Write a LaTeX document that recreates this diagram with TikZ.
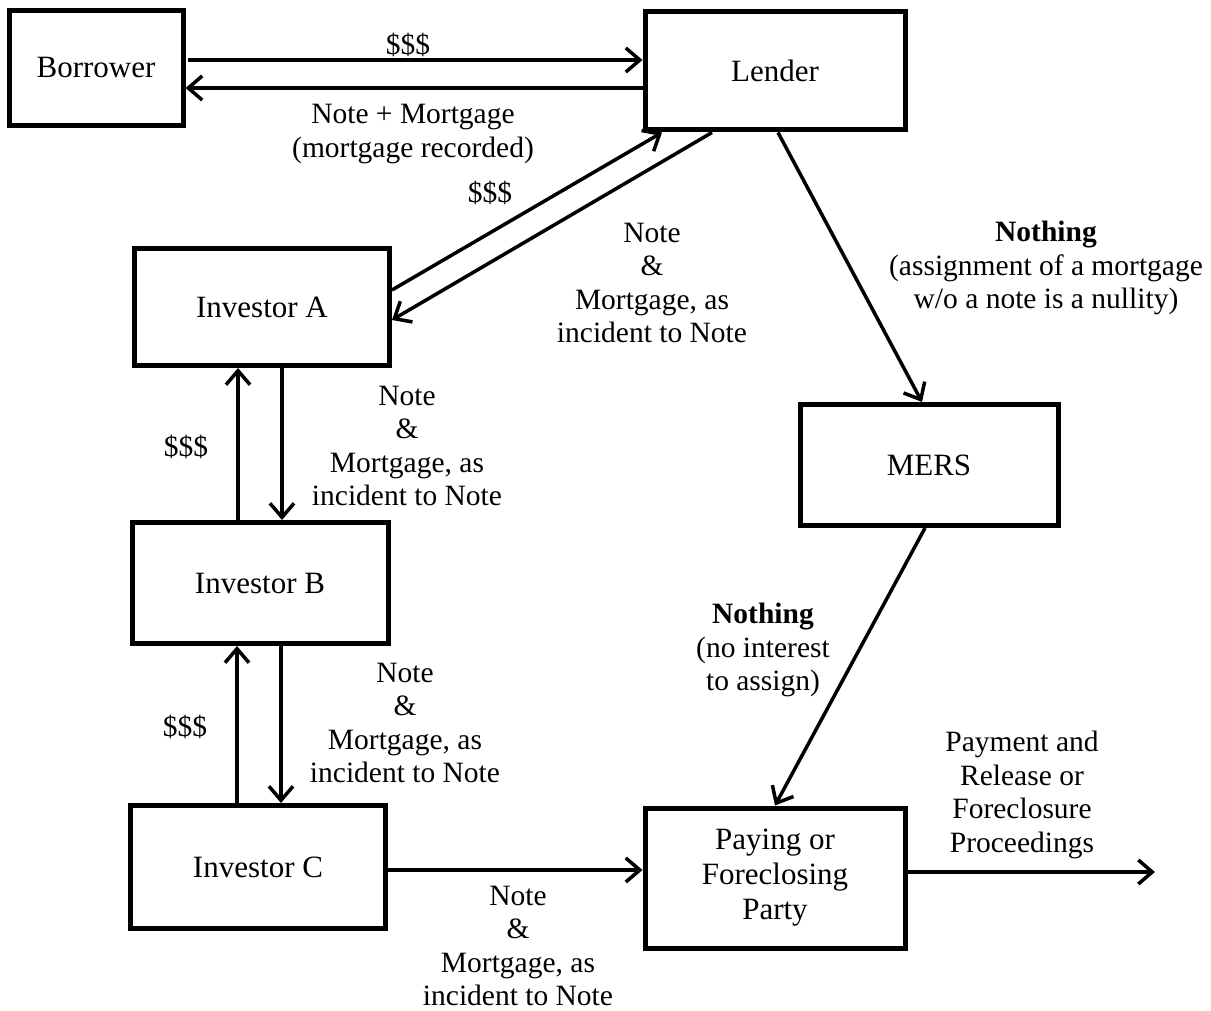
\documentclass[tikz,border=0pt]{standalone}
\usepackage{fontspec}
\setmainfont{Liberation Serif}
\usetikzlibrary{arrows.meta,calc}
\begin{document}
\begin{tikzpicture}[x=1pt,y=-1pt,
  box/.style={draw,line width=5pt,rectangle,inner sep=0pt,align=center,font=\fontsize{31}{35}\selectfont},
  lbl/.style={align=center,inner sep=0pt,font=\fontsize{29.5}{33.5}\selectfont},
  arr/.style={line width=3.5pt,-{Straight Barb[length=14pt,width=24pt,line width=3.5pt]}}]
\useasboundingbox (0,0) rectangle (1211,1011);
% boxes
\node[box,minimum width=174pt,minimum height=115pt] (bor) at (96,68) {Borrower};
\node[box,minimum width=260pt,minimum height=118pt] (len) at (775,71) {Lender};
\node[box,minimum width=255pt,minimum height=117pt] (invA) at (262,307) {Investor A};
\node[box,minimum width=256pt,minimum height=121pt] (invB) at (260,583) {Investor B};
\node[box,minimum width=255pt,minimum height=123pt] (invC) at (258,867) {Investor C};
\node[box,minimum width=258pt,minimum height=121pt] (mers) at (929,465) {MERS};
\node[box,minimum width=260pt,minimum height=140pt] (pay) at (775,878) {Paying or\\Foreclosing\\Party};
\coordinate (out) at (1155,872);
% connectors
\draw[arr] (188,0 |- 0,60) -- (len.west |- 0,60);
\draw[arr] (len.west |- 0,88) -- (bor.east |- 0,88);
\draw[arr] (invA.east |- 0,290) -- (662,0 |- len.south);
\draw[arr] (712,0 |- len.south) -- (invA.east |- 0,320);
\draw[arr] ([xshift=3pt]len.south) -- ([xshift=-7pt]mers.north);
\draw[arr] (238,0 |- invB.north) -- (238,0 |- invA.south);
\draw[arr] (282,0 |- invA.south) -- (282,0 |- invB.north);
\draw[arr] (237,0 |- invC.north) -- (237,0 |- invB.south);
\draw[arr] (281,0 |- invB.south) -- (281,0 |- invC.north);
\draw[arr] ([xshift=-4pt]mers.south) -- (pay.north);
\draw[arr] (invC.east |- 0,870) -- (pay.west |- 0,870);
\draw[arr] (pay.east |- out) -- (out);
% labels
\node[lbl] (l1) at (408,45) {\$\$\$};
\node[lbl] (l2) at (413,134) {Note + Mortgage\\(mortgage recorded)};
\node[lbl] (l3) at (490,193) {\$\$\$};
\node[lbl] (l4) at (652,283) {Note\\\&\\Mortgage, as\\incident to Note};
\node[lbl] (l5) at (1046,268) {\textbf{Nothing}\\(assignment of a mortgage\\w/o a note is a nullity)};
\node[lbl] (l6) at (186,447) {\$\$\$};
\node[lbl] (l7) at (407,446) {Note\\\&\\Mortgage, as\\incident to Note};
\node[lbl] (l8) at (185,727) {\$\$\$};
\node[lbl] (l9) at (405,723) {Note\\\&\\Mortgage, as\\incident to Note};
\node[lbl] (l10) at (763,650) {\textbf{Nothing}\\(no interest\\to assign)};
\node[lbl] (l11) at (1022,795) {Payment and\\Release or\\Foreclosure\\Proceedings};
\node[lbl] (l12) at (518,946) {Note\\\&\\Mortgage, as\\incident to Note};
\end{tikzpicture}
\end{document}
